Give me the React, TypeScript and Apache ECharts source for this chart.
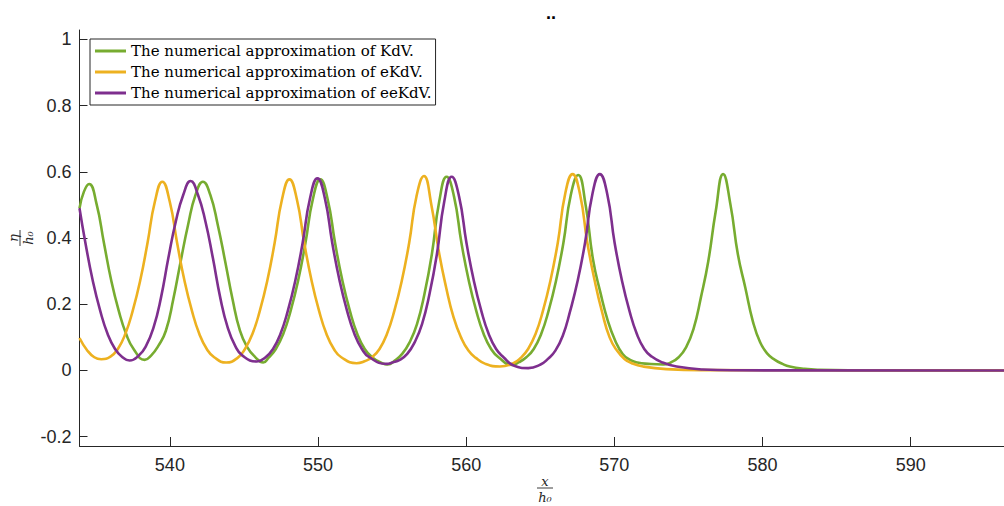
import React, { useEffect, useRef } from "react";
import * as echarts from "echarts";

const seriesNames = [
  "The numerical approximation of KdV.",
  "The numerical approximation of eKdV.",
  "The numerical approximation of eeKdV.",
];
const seriesColors = ["#77AC30", "#EDB120", "#7E2F8E"];

const xTicks = [540, 550, 560, 570, 580, 590];
const yTicks = [-0.2, 0, 0.2, 0.4, 0.6, 0.8, 1];

const kdvPoints: number[][] = [
  [533.9, 0.49], [534.2, 0.54], [534.55, 0.563], [535.05, 0.503], [535.55, 0.385], [536.05, 0.27],
  [536.55, 0.18], [537.05, 0.11], [537.55, 0.065], [538.3, 0.032],
  [538.73, 0.045], [539.23, 0.075], [539.73, 0.12], [540.23, 0.215], [540.73, 0.33], [541.23, 0.44],
  [541.73, 0.53], [542.23, 0.57], [542.73, 0.53], [543.23, 0.44], [543.73, 0.33], [544.23, 0.215],
  [544.73, 0.12], [545.23, 0.07], [545.73, 0.042], [546.3, 0.024],
  [546.65, 0.038], [547.15, 0.065], [547.65, 0.11], [548.15, 0.18], [548.65, 0.27], [549.15, 0.385],
  [549.65, 0.517], [550.15, 0.577], [550.65, 0.517], [551.15, 0.385], [551.65, 0.27], [552.15, 0.18],
  [552.65, 0.11], [553.15, 0.065], [553.65, 0.04], [554.2, 0.025], [554.7, 0.018],
  [555.18, 0.03], [555.68, 0.05], [556.18, 0.085], [556.68, 0.14], [557.18, 0.23], [557.68, 0.35],
  [558.18, 0.51], [558.68, 0.585], [559.18, 0.525], [559.68, 0.385], [560.18, 0.27], [560.68, 0.18],
  [561.18, 0.11], [561.68, 0.065], [562.18, 0.04], [563.1, 0.017],
  [563.56, 0.025], [564.06, 0.04], [564.56, 0.065], [565.06, 0.11], [565.56, 0.18], [566.06, 0.27],
  [566.56, 0.385], [567.06, 0.53], [567.56, 0.59], [568.06, 0.5], [568.56, 0.335], [569.06, 0.235],
  [569.56, 0.15], [570.06, 0.09], [570.56, 0.05], [571.06, 0.032], [571.56, 0.024], [572.3, 0.02],
  [573.3, 0.018],
  [573.84, 0.025], [574.34, 0.04], [574.84, 0.07], [575.34, 0.125], [575.84, 0.22], [576.34, 0.33],
  [576.84, 0.48], [577.34, 0.593], [577.84, 0.5], [578.34, 0.35], [578.84, 0.25], [579.34, 0.15],
  [579.84, 0.085], [580.34, 0.05], [580.84, 0.032], [581.34, 0.02], [581.84, 0.012], [582.84, 0.005],
  [583.84, 0.002], [586.0, 0.0005], [596.3, 0],
];

const ekdvPoints: number[][] = [
  [533.9, 0.098], [534.4, 0.062], [534.9, 0.04], [535.37, 0.034], [535.99, 0.042], [536.49, 0.065],
  [536.99, 0.11], [537.49, 0.18], [537.99, 0.27], [538.49, 0.385], [538.99, 0.51], [539.49, 0.57],
  [539.99, 0.51], [540.49, 0.385], [540.99, 0.27], [541.49, 0.18], [541.99, 0.11], [542.49, 0.065],
  [542.99, 0.04], [543.8, 0.024],
  [544.57, 0.038], [545.07, 0.065], [545.57, 0.11], [546.07, 0.18], [546.57, 0.27], [547.07, 0.385],
  [547.57, 0.517], [548.07, 0.577], [548.57, 0.517], [549.07, 0.385], [549.57, 0.27], [550.07, 0.18],
  [550.57, 0.11], [551.07, 0.065], [551.57, 0.04], [552.6, 0.022],
  [553.15, 0.028], [553.65, 0.04], [554.15, 0.065], [554.65, 0.11], [555.15, 0.18], [555.65, 0.27],
  [556.15, 0.385], [556.65, 0.527], [557.15, 0.587], [557.65, 0.5], [558.15, 0.36], [558.65, 0.25],
  [559.15, 0.16], [559.65, 0.1], [560.15, 0.06], [560.65, 0.038], [561.3, 0.02], [562.28, 0.012],
  [563.18, 0.022], [563.68, 0.038], [564.18, 0.065], [564.68, 0.11], [565.18, 0.18], [565.68, 0.27],
  [566.18, 0.385], [566.68, 0.533], [567.18, 0.593], [567.68, 0.533], [568.18, 0.385], [568.68, 0.27],
  [569.18, 0.175], [569.68, 0.1], [570.18, 0.06], [570.68, 0.035], [571.18, 0.022], [571.94, 0.012],
  [573.5, 0.004], [576.0, 0.001], [596.3, 0],
];

const eekdvPoints: number[][] = [
  [533.9, 0.49], [534.3, 0.385], [534.8, 0.27], [535.3, 0.18], [535.8, 0.11], [536.3, 0.065],
  [536.8, 0.04], [537.28, 0.03],
  [537.9, 0.045], [538.4, 0.075], [538.9, 0.13], [539.4, 0.22], [539.9, 0.34], [540.4, 0.45],
  [540.9, 0.53], [541.4, 0.572], [541.9, 0.53], [542.4, 0.45], [542.9, 0.34], [543.4, 0.22],
  [543.9, 0.13], [544.4, 0.075], [544.9, 0.045], [545.87, 0.027],
  [546.46, 0.04], [546.96, 0.065], [547.46, 0.11], [547.96, 0.18], [548.46, 0.27], [548.96, 0.385],
  [549.46, 0.52], [549.96, 0.58], [550.46, 0.52], [550.96, 0.385], [551.46, 0.27], [551.96, 0.18],
  [552.46, 0.11], [552.96, 0.065], [553.46, 0.04], [554.62, 0.02],
  [555.02, 0.024], [555.52, 0.032], [556.02, 0.05], [556.52, 0.085], [557.02, 0.14], [557.52, 0.23],
  [558.02, 0.35], [558.52, 0.51], [559.02, 0.585], [559.52, 0.525], [560.02, 0.385], [560.52, 0.27],
  [561.02, 0.18], [561.52, 0.11], [562.02, 0.065], [562.52, 0.04], [563.2, 0.015], [564.19, 0.007],
  [565.02, 0.018], [565.52, 0.035], [566.02, 0.06], [566.52, 0.105], [567.02, 0.18], [567.52, 0.27],
  [568.02, 0.385], [568.52, 0.533], [569.02, 0.593], [569.52, 0.533], [570.02, 0.385], [570.52, 0.27],
  [571.02, 0.18], [571.52, 0.11], [572.02, 0.065], [572.52, 0.042], [573.2, 0.025], [574.2, 0.012],
  [575.97, 0.003], [578.0, 0.0005], [596.3, 0],
];

const seriesPoints = [kdvPoints, ekdvPoints, eekdvPoints];

const axisColor = "#262626";

export default function App() {
  const ref = useRef<HTMLDivElement>(null);
  useEffect(() => {
    if (!ref.current) return;
    const chart = echarts.init(ref.current, undefined, { renderer: "svg" });
    const fmt = (v: number) => {
      const r = Math.round(v * 10) / 10;
      return r === 0 ? "0" : String(r);
    };
    const fracText = (t: string, y: number) => ({
      type: "text",
      x: 0,
      y,
      style: {
        text: t,
        fontFamily: "DejaVu Serif",
        fontStyle: "italic",
        fontSize: 13,
        fill: "#262626",
        align: "center",
        verticalAlign: "middle",
      },
    });
    chart.setOption({
      animation: false,
      backgroundColor: "#ffffff",
      grid: { left: 79.5, right: 0, top: 30, bottom: 60, containLabel: false },
      title: {
        text: "..",
        left: 546,
        top: -1,
        textAlign: "center",
        textStyle: { fontSize: 18, fontWeight: "bold", color: "#000", fontFamily: "Liberation Sans" },
      },
      legend: {
        orient: "vertical",
        left: 90,
        top: 39,
        data: seriesNames,
        icon: "rect",
        itemWidth: 31,
        itemHeight: 3,
        itemGap: 3,
        padding: [3, 4, 3, 5],
        borderColor: "#262626",
        borderWidth: 1,
        backgroundColor: "#ffffff",
        selectedMode: false,
        textStyle: { fontFamily: "DejaVu Serif", fontSize: 15, color: "#000", lineHeight: 18 },
      },
      xAxis: {
        type: "value",
        min: 533.9,
        max: 596.3,
        axisLine: { show: true, onZero: false, lineStyle: { color: axisColor, width: 1 } },
        axisTick: { show: true, inside: true, length: 9, customValues: xTicks, lineStyle: { color: axisColor } },
        axisLabel: {
          customValues: xTicks,
          color: axisColor,
          fontSize: 18,
          fontFamily: "Liberation Sans",
          margin: 10,
          formatter: (v: number) => String(v),
        },
        splitLine: { show: false },
      },
      yAxis: {
        type: "value",
        min: -0.228,
        max: 1.028,
        axisLine: { show: true, onZero: false, lineStyle: { color: axisColor, width: 1 } },
        axisTick: { show: true, inside: true, length: 8, customValues: yTicks, lineStyle: { color: axisColor } },
        axisLabel: {
          customValues: yTicks,
          color: axisColor,
          fontSize: 18,
          fontFamily: "Liberation Sans",
          margin: 8,
          formatter: fmt,
        },
        splitLine: { show: false },
      },
      series: seriesNames.map((name, i) => ({
        name,
        type: "line",
        data: seriesPoints[i],
        showSymbol: false,
        smooth: 0.5,
        clip: true,
        lineStyle: { color: seriesColors[i], width: 2.6 },
        itemStyle: { color: seriesColors[i] },
        z: 2 + i,
      })),
      graphic: [
        {
          type: "group",
          x: 20,
          y: 238,
          rotation: Math.PI / 2,
          children: [
            fracText("η", -7),
            { type: "line", shape: { x1: -8, y1: 0, x2: 8, y2: 0 }, style: { stroke: "#262626", lineWidth: 0.9 } },
            fracText("h₀", 8),
          ],
        },
        {
          type: "group",
          x: 545,
          y: 488,
          children: [
            fracText("x", -7),
            { type: "line", shape: { x1: -8, y1: 0, x2: 8, y2: 0 }, style: { stroke: "#262626", lineWidth: 0.9 } },
            fracText("h₀", 9),
          ],
        },
      ],
    });
    return () => chart.dispose();
  }, []);
  return (
    <div
      ref={ref}
      style={{ position: "fixed", left: 0, top: 0, width: 1004, height: 506, background: "#fff" }}
    />
  );
}
